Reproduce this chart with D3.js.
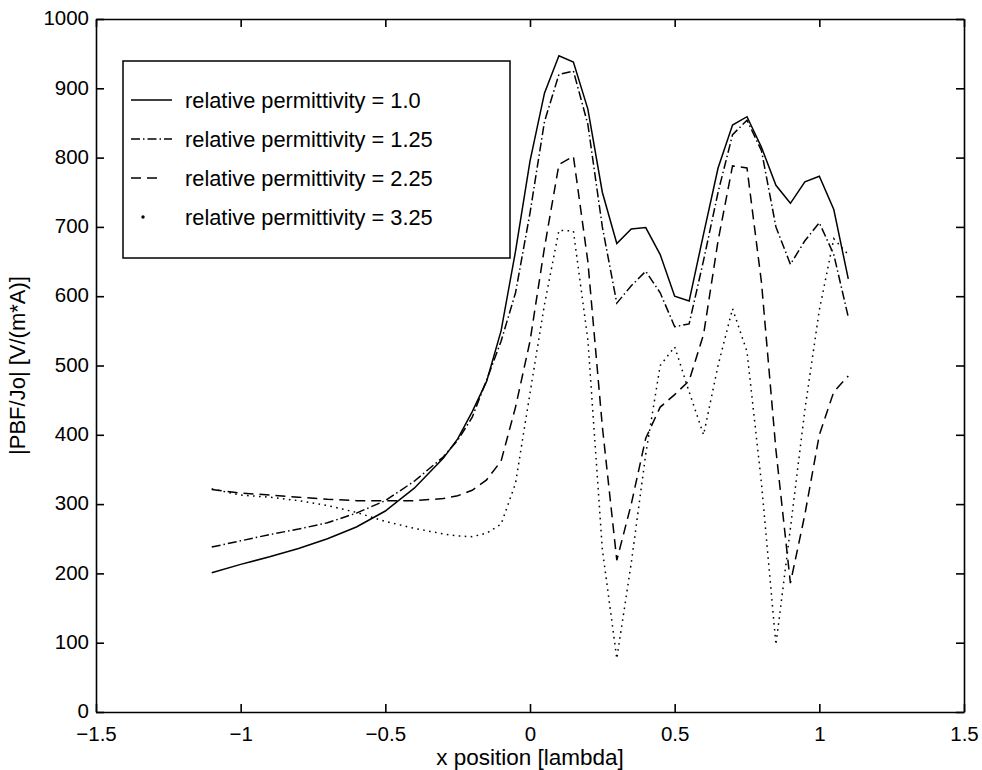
<!DOCTYPE html>
<html>
<head>
<meta charset="utf-8">
<script src="https://cdn.jsdelivr.net/npm/d3@7"></script>
<style>
  body { margin: 0; background: #fff; }
  svg { font-family: "Liberation Sans", Arial, Helvetica, sans-serif; }
  .os path, .os line { stroke: #000; stroke-width: 1.6; }
  .os text { font-size: 20.5px; fill: #000; }
  .krivulja { fill: none; stroke: #000; stroke-width: 1.5; }
</style>
</head>
<body>
<div id="okvir"></div>
<script>
// x positions (lambda)
const xPolozaji = [-1.1, -1.0, -0.9, -0.8, -0.7, -0.6, -0.5, -0.4, -0.3, -0.25, -0.2, -0.15, -0.1, -0.05,
  0, 0.05, 0.1, 0.15, 0.2, 0.25, 0.3, 0.35, 0.4, 0.45, 0.5, 0.55, 0.6, 0.65, 0.7, 0.75, 0.8, 0.85,
  0.9, 0.95, 1.0, 1.05, 1.1]

// |PBF/Jo| for each relative permittivity
const perm100 = [201, 213, 224, 236, 250, 267, 290, 323, 366, 394, 433, 477, 550, 665,
  795, 893, 947, 938, 870, 750, 676, 697, 699, 660, 600, 593, 690, 785, 847, 859, 815, 760,
  734, 765, 773, 725, 625]
const perm125 = [238, 247, 256, 264, 273, 287, 305, 333, 368, 392, 425, 479, 535, 605,
  720, 852, 920, 925, 848, 700, 590, 615, 636, 605, 556, 560, 652, 750, 833, 854, 810, 700,
  646, 680, 706, 660, 570]
const perm225 = [321, 316, 313, 310, 307, 305, 305, 305, 308, 312, 320, 335, 362, 440,
  535, 670, 790, 802, 650, 412, 219, 300, 395, 440, 458, 478, 545, 680, 788, 785, 620, 378,
  186, 285, 400, 462, 485]
const perm325 = [322, 313, 310, 305, 298, 288, 275, 265, 257, 254, 253, 258, 271, 330,
  460, 588, 695, 694, 537, 235, 77, 215, 372, 500, 527, 462, 400, 500, 582, 520, 330, 97,
  265, 436, 580, 683, 660]

const oznakeLegende = ["relative permittivity = 1.0", "relative permittivity = 1.25",
  "relative permittivity = 2.25", "relative permittivity = 3.25"]
const xTickovi = [-1.5, -1, -0.5, 0, 0.5, 1, 1.5]
const yTickovi = [0, 100, 200, 300, 400, 500, 600, 700, 800, 900, 1000]

function crtaj() {
  const dimenzije = {
    sirina: 982,
    visina: 770,
    margine: { top: 19, right: 18, bottom: 58, left: 96 },
  }
  dimenzije.grSirina = dimenzije.sirina - dimenzije.margine.left - dimenzije.margine.right
  dimenzije.grVisina = dimenzije.visina - dimenzije.margine.top - dimenzije.margine.bottom

  const okvir = d3.select("#okvir").append("svg")
      .attr("width", dimenzije.sirina)
      .attr("height", dimenzije.visina)

  const granice = okvir.append("g")
      .attr("transform", `translate(${dimenzije.margine.left},${dimenzije.margine.top})`)

  const xSkala = d3.scaleLinear().domain([-1.5, 1.5]).range([0, dimenzije.grSirina])
  const ySkala = d3.scaleLinear().domain([0, 1000]).range([dimenzije.grVisina, 0])

  const format = d3.format("")

  // axes, ticks pointing inward, on all four sides
  granice.append("g").attr("class", "os")
      .attr("transform", `translate(0,${dimenzije.grVisina})`)
      .call(d3.axisBottom(xSkala).tickValues(xTickovi).tickSize(-8).tickPadding(14)
        .tickSizeOuter(0).tickFormat(format))
  granice.append("g").attr("class", "os")
      .call(d3.axisTop(xSkala).tickValues(xTickovi).tickSize(-8).tickFormat("").tickSizeOuter(0))
  const yOs = granice.append("g").attr("class", "os")
      .call(d3.axisLeft(ySkala).tickValues(yTickovi).tickSize(-8).tickPadding(7)
        .tickSizeOuter(0).tickFormat(format))
  yOs.selectAll("text").attr("dy", "0.28em")
  granice.append("g").attr("class", "os")
      .attr("transform", `translate(${dimenzije.grSirina},0)`)
      .call(d3.axisRight(ySkala).tickValues(yTickovi).tickSize(-8).tickFormat("").tickSizeOuter(0))

  const serije = [
    { vrijednosti: perm100, crtice: null },
    { vrijednosti: perm125, crtice: "9,3,1.5,3" },
    { vrijednosti: perm225, crtice: "10,6" },
    { vrijednosti: perm325, crtice: "1.6,4.4" },
  ]

  const linija = d3.line()
    .x((d, i) => xSkala(xPolozaji[i]))
    .y(d => ySkala(d))

  granice.selectAll(".krivulja")
    .data(serije)
    .enter().append("path")
      .attr("class", "krivulja")
      .attr("d", d => linija(d.vrijednosti))
      .attr("stroke-dasharray", d => d.crtice)

  // legend
  const legenda = okvir.append("g").attr("transform", "translate(123,61)")
  legenda.append("rect")
      .attr("width", 387).attr("height", 197)
      .attr("fill", "#fff").attr("stroke", "#000").attr("stroke-width", 1.5)

  const redovi = legenda.selectAll(".red")
    .data(serije)
    .enter().append("g")
      .attr("transform", (d, i) => `translate(0,${39 + i * 39})`)

  redovi.filter((d, i) => i < 3).append("line")
      .attr("class", "krivulja")
      .attr("x1", 8).attr("x2", (d, i) => i === 2 ? 40 : 49)
      .attr("stroke-dasharray", d => d.crtice)
  redovi.filter((d, i) => i === 3).append("circle")
      .attr("cx", 20).attr("r", 1.7).attr("fill", "#000")

  redovi.append("text")
      .attr("x", 62).attr("dy", "0.35em")
      .style("font-size", "21.8px")
      .text((d, i) => oznakeLegende[i])

  okvir.append("text")
      .attr("x", dimenzije.margine.left + xSkala(0))
      .attr("y", 765)
      .attr("text-anchor", "middle")
      .style("font-size", "22.5px")
      .text("x position [lambda]")

  okvir.append("text")
      .attr("transform", `translate(25,${dimenzije.margine.top + ySkala(500)}) rotate(-90)`)
      .attr("text-anchor", "middle")
      .style("font-size", "22px")
      .text("|PBF/Jo| [V/(m*A)]")
}
crtaj()
</script>
</body>
</html>
